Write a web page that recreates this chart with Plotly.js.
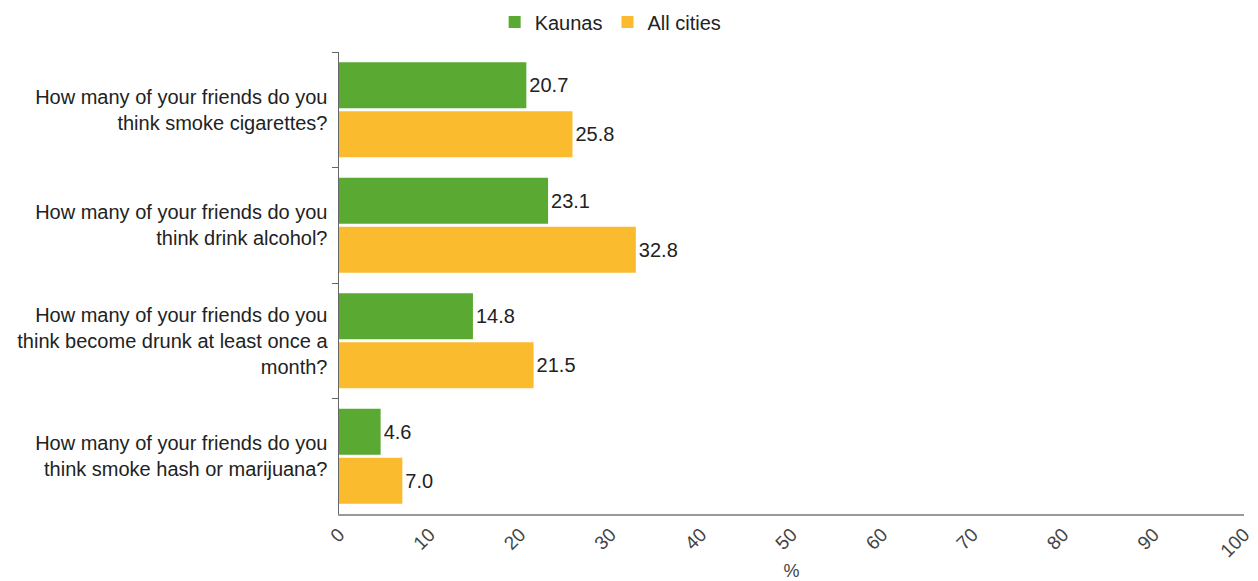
<!DOCTYPE html>
<html>
<head>
<meta charset="utf-8">
<script src="https://cdn.plot.ly/plotly-3.0.1.min.js"></script>
<style>html,body{margin:0;padding:0;background:#fff;}#chart{width:1258px;height:581px;}</style>
</head>
<body>
<div id="chart"></div>
<script>
const categories = [
  "How many of your friends do you<br>think smoke cigarettes?",
  "How many of your friends do you<br>think drink alcohol?",
  "How many of your friends do you<br>think become drunk at least once a<br>month?",
  "How many of your friends do you<br>think smoke hash or marijuana?"
];
const kaunas = [20.7, 23.1, 14.8, 4.6];
const allCities = [25.8, 32.8, 21.5, 7.0];
const xTicks = [0, 10, 20, 30, 40, 50, 60, 70, 80, 90, 100];

const font = {family: "Arial, Liberation Sans, sans-serif", size: 20, color: "#222"};

const traces = [
  {type: "bar", orientation: "h", name: "Kaunas", y: categories, x: kaunas,
   marker: {color: "#5aa932"}, text: kaunas.map(v => v.toFixed(1)), textposition: "outside",
   textfont: font, cliponaxis: false, hoverinfo: "x"},
  {type: "bar", orientation: "h", name: "All cities", y: categories, x: allCities,
   marker: {color: "#fbbb2f"}, text: allCities.map(v => v.toFixed(1)), textposition: "outside",
   textfont: font, cliponaxis: false, hoverinfo: "x"}
];

const layout = {
  width: 1258, height: 581,
  margin: {l: 339, r: 14, t: 52, b: 67, autoexpand: false},
  paper_bgcolor: "#fff", plot_bgcolor: "#fff",
  font: font,
  barmode: "group", bargap: 0.15, bargroupgap: 0.06,
  showlegend: true,
  legend: {orientation: "h", x: 0.172, xanchor: "left", y: 1.065, yanchor: "middle",
           font: font, itemwidth: 30, tracegroupgap: 0, bgcolor: "rgba(0,0,0,0)"},
  xaxis: {range: [0, 100], tickvals: xTicks, ticktext: xTicks.map(String), tickangle: -45,
          showgrid: false, zeroline: false, showline: true, linecolor: "#999", linewidth: 2,
          ticks: "", tickfont: {family: font.family, size: 19, color: "#444"},
          title: {text: "%", font: {family: font.family, size: 18, color: "#444"}, standoff: 10}},
  yaxis: {autorange: "reversed", showgrid: false, zeroline: false, showline: true,
          linecolor: "#666", linewidth: 1.5, ticks: "outside", tickson: "boundaries",
          ticklen: 6, tickcolor: "#666", tickfont: font, ticklabelstandoff: 6}
};

Plotly.newPlot("chart", traces, layout, {displayModeBar: false, staticPlot: true});
</script>
</body>
</html>
